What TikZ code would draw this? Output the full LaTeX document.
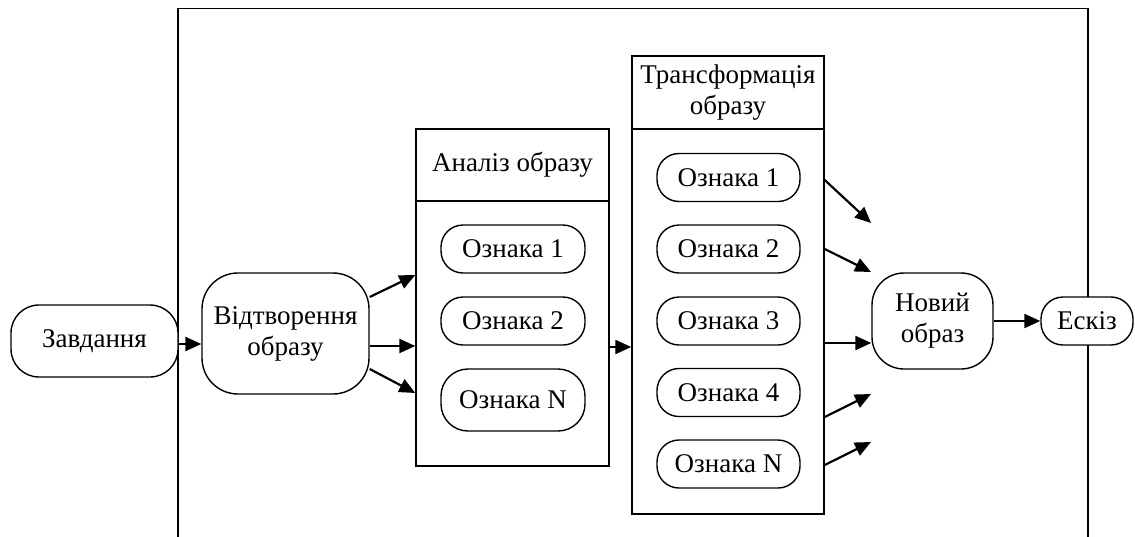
\documentclass[tikz,border=0pt]{standalone}
\usepackage{fontspec}
\setmainfont{Liberation Serif}
\usetikzlibrary{arrows.meta,calc}
\begin{document}
\begin{tikzpicture}[x=1pt,y=-1pt,
  txt/.style={font=\fontsize{27}{31}\selectfont, align=center, inner sep=0pt},
  term/.style={txt, draw, line width=1.4pt, fill=white, rounded corners=#1},
  term/.default=22pt,
  plain/.style={txt, draw, line width=1.4pt, fill=white},
  arr/.style={line width=2.2pt, -{Triangle[length=16pt,width=14pt]}},
  frame/.style={line width=1.6pt}
]
\useasboundingbox (0,0) rectangle (1135,536);
% outer frame (open at bottom)
\draw[frame] (178,540) -- (178,8.5) -- (1088,8.5) -- (1088,540);

% left nodes
\node[term=28pt, minimum width=167pt, minimum height=72pt] (zav) at (94.5,341) {Завдання};
\node[term=36pt, minimum width=167pt, minimum height=121pt] (vid) at (285.5,333.5) {Відтворення\\образу};

% analysis block
\node[plain, minimum width=193pt, minimum height=72pt] (anhead) at (512.5,165) {Аналіз образу};
\node[plain, minimum width=193pt, minimum height=265pt] (anbody) at (512.5,333.5) {};
\node[term, minimum width=144pt, minimum height=48pt] (a1) at (513,249) {Ознака 1};
\node[term, minimum width=144pt, minimum height=48pt] (a2) at (513,321) {Ознака 2};
\node[term=27pt, minimum width=144pt, minimum height=62pt] (aN) at (513,400) {Ознака N};

% transformation block
\node[plain, minimum width=192pt, minimum height=73pt] (trhead) at (728,92.5) {Трансформація\\образу};
\node[plain, minimum width=192pt, minimum height=385pt] (trbody) at (728,321.5) {};
\node[term, minimum width=143pt, minimum height=48pt] (t1) at (728.5,177.5) {Ознака 1};
\node[term, minimum width=143pt, minimum height=48pt] (t2) at (728.5,249) {Ознака 2};
\node[term, minimum width=143pt, minimum height=48pt] (t3) at (728.5,321) {Ознака 3};
\node[term, minimum width=143pt, minimum height=48pt] (t4) at (728.5,392.5) {Ознака 4};
\node[term, minimum width=143pt, minimum height=48pt] (tN) at (728.5,464) {Ознака N};

% right nodes
\node[term=32pt, minimum width=121pt, minimum height=96pt] (new) at (932.5,321) {Новий\\образ};
\node[term, minimum width=92pt, minimum height=48pt] (esk) at (1087,321) {Ескіз};

% free arrow ends
\coordinate (e1) at (871,223);
\coordinate (e2) at (871,272);
\coordinate (e4) at (871,394);
\coordinate (e5) at (871,442);

% connectors
\draw[arr] (zav.east |- 0,344) -- (vid.west |- 0,344);
\draw[arr] (vid.east |- 0,297) -- (anbody.west |- 0,275);
\draw[arr] (vid.east |- 0,346) -- (anbody.west |- 0,346);
\draw[arr] (vid.east |- 0,369) -- (anbody.west |- 0,393);
\draw[arr] (anbody.east |- 0,347) -- (trbody.west |- 0,347);
\draw[arr] (trbody.east |- 0,180) -- (e1);
\draw[arr] (trbody.east |- 0,249) -- (e2);
\draw[arr] (trbody.east |- 0,343) -- (new.west |- 0,343);
\draw[arr] (trbody.east |- 0,417) -- (e4);
\draw[arr] (trbody.east |- 0,465) -- (e5);
\draw[arr] (new.east) -- (esk.west);
\end{tikzpicture}
\end{document}
